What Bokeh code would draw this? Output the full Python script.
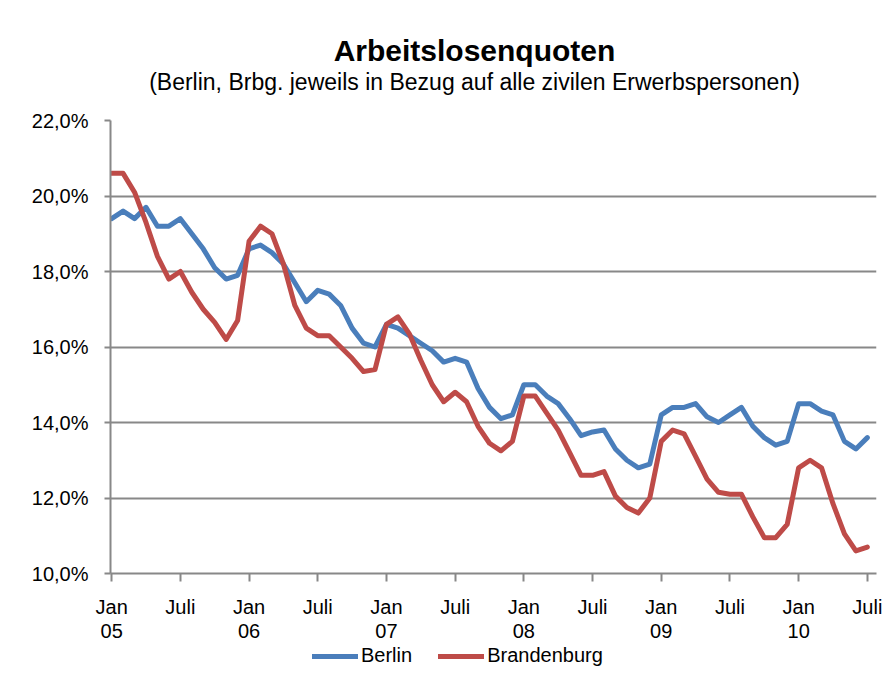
from bokeh.plotting import figure
from bokeh.layouts import column
from bokeh.models import FixedTicker, LinearAxis, Legend, LegendItem, Label, Range1d
from bokeh.embed import file_html
from bokeh.resources import INLINE

# ---- data (monthly, Jan 2005 .. Jul 2010) ----
years = ["05", "06", "07", "08", "09", "10"]
half_year_labels = ["Jan", "Juli"]

berlin = [19.4, 19.6, 19.4, 19.7, 19.2, 19.2, 19.4, 19.0, 18.6, 18.1, 17.8, 17.9,
          18.6, 18.7, 18.5, 18.2, 17.7, 17.2, 17.5, 17.4, 17.1, 16.5, 16.1, 16.0,
          16.6, 16.5, 16.3, 16.1, 15.9, 15.6, 15.7, 15.6, 14.9, 14.4, 14.1, 14.2,
          15.0, 15.0, 14.7, 14.5, 14.1, 13.65, 13.75, 13.8, 13.3, 13.0, 12.8, 12.9,
          14.2, 14.4, 14.4, 14.5, 14.15, 14.0, 14.2, 14.4, 13.9, 13.6, 13.4, 13.5,
          14.5, 14.5, 14.3, 14.2, 13.5, 13.3, 13.6]

brandenburg = [20.6, 20.6, 20.1, 19.3, 18.4, 17.8, 18.0, 17.45, 17.0, 16.65, 16.2, 16.7,
               18.8, 19.2, 19.0, 18.2, 17.1, 16.5, 16.3, 16.3, 16.0, 15.7, 15.35, 15.4,
               16.6, 16.8, 16.35, 15.65, 15.0, 14.55, 14.8, 14.55, 13.9, 13.45, 13.25, 13.5,
               14.7, 14.7, 14.25, 13.8, 13.2, 12.6, 12.6, 12.7, 12.05, 11.75, 11.6, 12.0,
               13.5, 13.8, 13.7, 13.1, 12.5, 12.15, 12.1, 12.1, 11.5, 10.95, 10.95, 11.3,
               12.8, 13.0, 12.8, 11.85, 11.05, 10.6, 10.7]

y_ticks = [10, 12, 14, 16, 18, 20, 22]
y_tick_labels = ["10,0%", "12,0%", "14,0%", "16,0%", "18,0%", "20,0%", "22,0%"]

title_text = "Arbeitslosenquoten"
subtitle_text = "(Berlin, Brbg. jeweils in Bezug auf alle zivilen Erwerbspersonen)"

x = list(range(len(berlin)))

FONT = "Liberation Sans"
GRAY = "#888888"
BLUE = "#4a7ebb"
RED = "#be4b48"
TICK_FS = "20px"

# ---- title strip (pixel-like coordinates) ----
p_top = figure(width=890, height=100, output_backend="svg", toolbar_location=None,
               x_range=Range1d(110, 876), y_range=Range1d(100, 0),
               x_axis_location=None, y_axis_location=None,
               min_border_left=110, min_border_right=14, min_border_top=0, min_border_bottom=0)
p_top.title.text = ""
p_top.title.visible = False
p_top.outline_line_color = None
p_top.grid.visible = False
p_top.add_layout(Label(x=474, y=50, text=title_text, text_align="center", text_baseline="middle",
                       text_font=FONT, text_font_size="30px", text_font_style="bold",
                       text_color="black"))
p_top.add_layout(Label(x=474, y=81, text=subtitle_text, text_align="center", text_baseline="middle",
                       text_font=FONT, text_font_size="23px", text_color="black"))

# ---- main chart ----
p = figure(width=890, height=545, output_backend="svg", toolbar_location=None,
           x_range=Range1d(-0.1, 66.8), y_range=Range1d(10, 22),
           min_border_left=110, min_border_right=14, min_border_top=20,
           min_border_bottom=72)
p.title.text = ""
p.title.visible = False
p.outline_line_color = None
p.background_fill_color = "white"
p.border_fill_color = "white"

r_b = p.line(x, berlin, line_width=5, color=BLUE, line_join="round", line_cap="round")
r_bb = p.line(x, brandenburg, line_width=5, color=RED, line_join="round", line_cap="round")

# y axis
p.yaxis.ticker = FixedTicker(ticks=y_ticks)
p.yaxis.major_label_overrides = {t: l for t, l in zip(y_ticks, y_tick_labels)}
p.yaxis.axis_line_color = GRAY
p.yaxis.axis_line_width = 2
p.yaxis.major_tick_line_color = GRAY
p.yaxis.major_tick_line_width = 2
p.yaxis.major_tick_in = 0
p.yaxis.major_tick_out = 6
p.yaxis.minor_tick_line_color = None
p.yaxis.major_label_standoff = 16
p.yaxis.major_label_text_font = FONT
p.yaxis.major_label_text_font_size = TICK_FS
p.yaxis.major_label_text_color = "black"

p.ygrid.ticker = FixedTicker(ticks=y_ticks)
p.ygrid.grid_line_color = GRAY
p.ygrid.grid_line_width = 2
p.xgrid.visible = False

# x axis: month row
half_ticks = list(range(0, len(x), 6))
p.xaxis.ticker = FixedTicker(ticks=half_ticks)
p.xaxis.major_label_overrides = {t: half_year_labels[(t // 6) % 2] for t in half_ticks}
p.xaxis.axis_line_color = GRAY
p.xaxis.axis_line_width = 2
p.xaxis.major_tick_line_color = GRAY
p.xaxis.major_tick_line_width = 2
p.xaxis.major_tick_in = 0
p.xaxis.major_tick_out = 8
p.xaxis.minor_tick_line_color = None
p.xaxis.major_label_standoff = 14
p.xaxis.major_label_text_font = FONT
p.xaxis.major_label_text_font_size = TICK_FS
p.xaxis.major_label_text_color = "black"

# x axis: year row
year_ticks = list(range(0, len(x), 12))
ax2 = LinearAxis(ticker=FixedTicker(ticks=year_ticks),
                 major_label_overrides={t: years[i] for i, t in enumerate(year_ticks)},
                 axis_line_color=None, major_tick_line_color=None, minor_tick_line_color=None,
                 major_tick_in=0, major_tick_out=0, major_label_standoff=3,
                 major_label_text_font=FONT, major_label_text_font_size=TICK_FS,
                 major_label_text_color="black")
p.add_layout(ax2, "below")

# ---- legend strip below the chart ----
p2 = figure(width=890, height=36, output_backend="svg", toolbar_location=None,
            x_range=Range1d(0, 1), y_range=Range1d(0, 1),
            x_axis_location=None, y_axis_location=None, min_border=0)
p2.title.text = ""
p2.title.visible = False
p2.outline_line_color = None
p2.grid.visible = False
l_b = p2.line([-2, -1], [-2, -1], line_width=5, color=BLUE, line_cap="round")
l_bb = p2.line([-2, -1], [-2, -1], line_width=5, color=RED, line_cap="round")
legend = Legend(items=[LegendItem(label="Berlin", renderers=[l_b]),
                       LegendItem(label="Brandenburg", renderers=[l_bb])],
                orientation="horizontal", location=(202, 14),
                label_text_font=FONT, label_text_font_size=TICK_FS, label_text_color="black",
                glyph_width=46, glyph_height=20, label_height=20, label_standoff=3, spacing=26,
                padding=0, margin=0, border_line_color=None, background_fill_alpha=0)
p2.add_layout(legend)

layout = column(p_top, p, p2, spacing=0)
open("out.html", "w").write(file_html(layout, INLINE))
